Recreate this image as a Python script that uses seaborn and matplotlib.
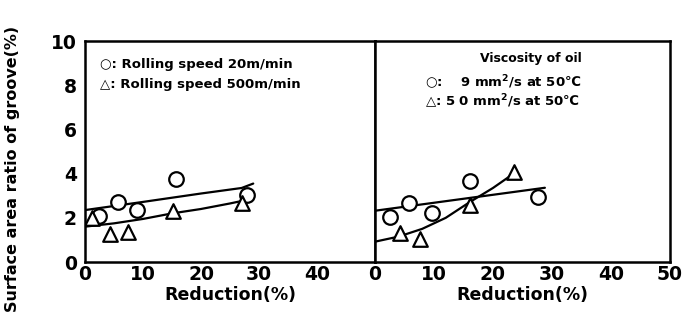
import matplotlib
matplotlib.use("Agg")
import matplotlib.pyplot as plt
import seaborn as sns

# left panel: rolling speed
speed20_x = [2.4, 5.6, 9.0, 15.7, 27.9]
speed20_y = [2.08, 2.71, 2.34, 3.74, 3.03]
speed500_x = [1.2, 4.3, 7.4, 15.1, 27.0]
speed500_y = [1.98, 1.25, 1.36, 2.31, 2.65]
fit20_x = [0, 10, 20, 27, 29]
fit20_y = [2.35, 2.72, 3.1, 3.35, 3.55]
fit500_x = [0, 5, 10, 15, 20, 25, 28.6]
fit500_y = [1.6, 1.75, 1.95, 2.2, 2.4, 2.65, 2.85]

# right panel: viscosity of oil
visc9_x = [2.5, 5.8, 9.6, 16.1, 27.6]
visc9_y = [2.02, 2.68, 2.23, 3.68, 2.93]
visc50_x = [4.3, 7.7, 16.1, 23.6]
visc50_y = [1.33, 1.03, 2.58, 4.06]
fit9_x = [0, 28.8]
fit9_y = [2.32, 3.36]
fit50_x = [0, 4, 8, 12, 16, 20, 23.5]
fit50_y = [0.92, 1.15, 1.5, 2.0, 2.7, 3.35, 4.0]

xticks = [0, 10, 20, 30, 40, 50]
yticks = [0, 2, 4, 6, 8, 10]

sns.set_style("white")
plt.rcParams["font.family"] = ["DejaVu Sans"]
plt.rcParams["font.weight"] = "bold"
plt.rcParams["text.color"] = "black"
plt.rcParams["axes.labelcolor"] = "black"
plt.rcParams["xtick.color"] = "black"
plt.rcParams["ytick.color"] = "black"

fig = plt.figure(figsize=(6.83, 3.29), dpi=100)
ax1 = fig.add_axes([0.1245, 0.2036, 0.4246, 0.6717])
ax2 = fig.add_axes([0.549, 0.2036, 0.4319, 0.6717])

mk = dict(s=110, facecolor="white", edgecolor="black", linewidth=1.6, zorder=3)


def draw(ax, cx, cy, tx, ty, l1x, l1y, l2x, l2y):
    sns.lineplot(x=l1x, y=l1y, ax=ax, color="black", linewidth=1.6, sort=True)
    sns.lineplot(x=l2x, y=l2y, ax=ax, color="black", linewidth=1.6, sort=True)
    sns.scatterplot(x=cx, y=cy, ax=ax, marker="o", **mk)
    sns.scatterplot(x=tx, y=ty, ax=ax, marker="^", **mk)
    ax.set_xlim(0, 50)
    ax.set_ylim(0, 10)
    ax.set_xticks(xticks)
    ax.set_yticks(yticks)
    for s in ax.spines.values():
        s.set_linewidth(1.8)
        s.set_color("black")
    ax.tick_params(direction="in", length=5, width=1.5, labelsize=13.5)
    ax.tick_params(axis="x", pad=2)
    ax.tick_params(axis="y", pad=6)
    ax.set_xlabel("Reduction(%)", fontsize=12.5, fontweight="bold")
    ax.xaxis.set_label_coords(0.5, -0.108)


draw(ax1, speed20_x, speed20_y, speed500_x, speed500_y, fit20_x, fit20_y, fit500_x, fit500_y)
draw(ax2, visc9_x, visc9_y, visc50_x, visc50_y, fit9_x, fit9_y, fit50_x, fit50_y)

ax1.set_xticklabels(["0", "10", "20", "30", "40", ""])
ax2.set_yticklabels([])
ax1.set_ylabel("Surface area ratio of groove(%)", fontsize=11.5, fontweight="bold")
ax1.yaxis.set_label_coords(-0.225, 0.42)

ax1.text(2.5, 8.95, "○: Rolling speed 20m/min", fontsize=9.5, fontweight="bold", va="center")
ax1.text(2.5, 8.05, "△: Rolling speed 500m/min", fontsize=9.5, fontweight="bold", va="center")

ax2.text(26.5, 9.2, "Viscosity of oil", fontsize=9, fontweight="bold", ha="center", va="center")
ax2.text(8.5, 8.1, r"○:    9 mm$^{\mathbf{2}}$/s at 50℃", fontsize=9.5, fontweight="bold", va="center")
ax2.text(8.5, 7.25, r"△: 5 0 mm$^{\mathbf{2}}$/s at 50℃", fontsize=9.5, fontweight="bold", va="center")

fig.savefig("out.png", dpi=100)
